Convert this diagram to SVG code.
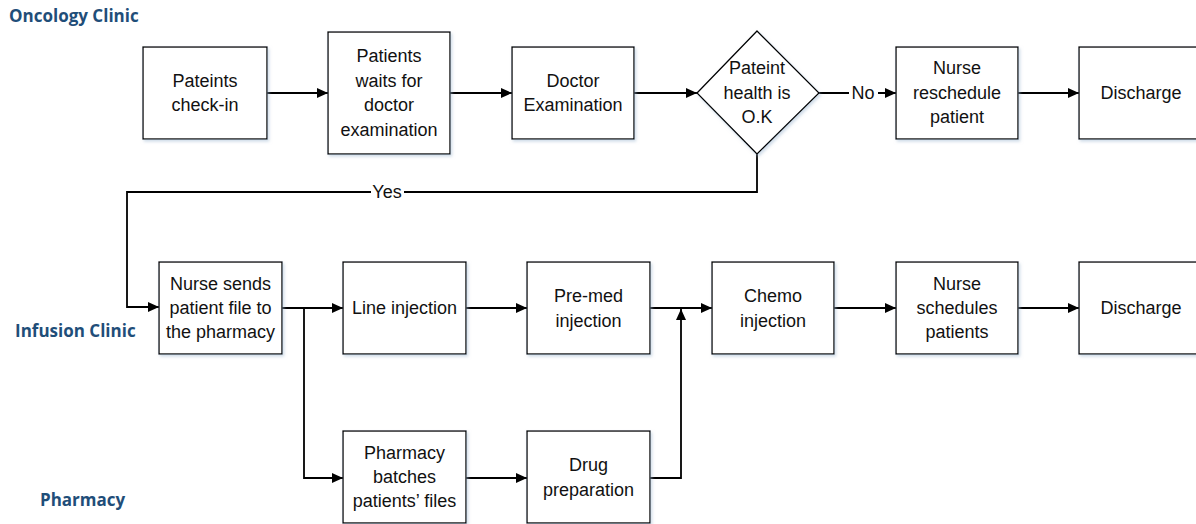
<svg xmlns="http://www.w3.org/2000/svg" width="1196" height="524" viewBox="0 0 1196 524">
<style>
.box{fill:#fff;stroke:#000;stroke-width:1.3;filter:url(#sh)}
.t{font-family:"Liberation Sans",Arial,sans-serif;font-size:18px;fill:#111;text-anchor:middle;dominant-baseline:central}
.lane{font-family:"Open Sans","Liberation Sans",sans-serif;font-size:17px;font-weight:bold;fill:#1F4E79}
.c{fill:none;stroke:#000;stroke-width:1.8;marker-end:url(#ah)}
.lbl{font-family:"Liberation Sans",Arial,sans-serif;font-size:18px;fill:#111;text-anchor:middle;dominant-baseline:central}
</style>
<defs>
<filter id="sh" x="-10%" y="-10%" width="125%" height="125%">
<feDropShadow dx="1.5" dy="2" stdDeviation="1.5" flood-color="#9fb8d0" flood-opacity="0.5"/>
</filter>
<marker id="ah" markerUnits="userSpaceOnUse" markerWidth="12" markerHeight="10" refX="11" refY="5" orient="auto">
<path d="M0,0 L11,5 L0,10 z" fill="#000"/>
</marker>
</defs>
<rect width="1196" height="524" fill="#fff"/>
<g id="lanes">
<text class="lane" x="9" y="22">Oncology Clinic</text>
<text class="lane" x="15" y="337">Infusion Clinic</text>
<text class="lane" x="40" y="506">Pharmacy</text>
</g>
<g id="connectors">
<path class="c" d="M267,93 H328"/>
<path class="c" d="M450,93 H512"/>
<path class="c" d="M634,93 H697"/>
<path class="c" d="M819,93 H896"/>
<path class="c" d="M1018,93 H1079"/>
<path class="c" d="M757,154 V192 H127 V307 H159"/>
<path class="c" d="M282,308 H343"/>
<path class="c" d="M304,308 V478 H343"/>
<path class="c" d="M466,308 H527"/>
<path class="c" d="M650,308 H712"/>
<path class="c" d="M466,478 H527"/>
<path class="c" d="M650,478 H681 V309"/>
<path class="c" d="M834,308 H896"/>
<path class="c" d="M1018,308 H1079"/>
<rect x="849" y="84" width="29" height="18" fill="#fff"/>
<text class="lbl" x="863" y="93">No</text>
<rect x="371" y="183" width="33" height="18" fill="#fff"/>
<text class="lbl" x="387" y="192">Yes</text>
</g>
<g id="checkin"><rect class="box" x="143" y="47" width="124" height="92"/>
<text class="t" x="205" y="81">Pateints</text><text class="t" x="205" y="105">check-in</text></g>
<g id="waits"><rect class="box" x="328" y="32" width="122" height="122"/>
<text class="t" x="389" y="56">Patients</text><text class="t" x="389" y="80.5">waits for</text><text class="t" x="389" y="105">doctor</text><text class="t" x="389" y="129.5">examination</text></g>
<g id="doctor"><rect class="box" x="512" y="47" width="122" height="92"/>
<text class="t" x="573" y="81">Doctor</text><text class="t" x="573" y="105">Examination</text></g>
<g id="decision"><polygon class="box" points="697,93 757,31 819,93 757,154"/>
<text class="t" x="757" y="68">Pateint</text><text class="t" x="757" y="93">health is</text><text class="t" x="757" y="117">O.K</text></g>
<g id="reschedule"><rect class="box" x="896" y="47" width="122" height="92"/>
<text class="t" x="957" y="68">Nurse</text><text class="t" x="957" y="93">reschedule</text><text class="t" x="957" y="117">patient</text></g>
<g id="discharge1"><rect class="box" x="1079" y="47" width="122" height="92"/>
<text class="t" x="1141" y="93">Discharge</text></g>
<g id="sendfile"><rect class="box" x="159" y="262" width="123" height="92"/>
<text class="t" x="220.5" y="284">Nurse sends</text><text class="t" x="220.5" y="308">patient file to</text><text class="t" x="220.5" y="332">the pharmacy</text></g>
<g id="line"><rect class="box" x="343" y="262" width="123" height="92"/>
<text class="t" x="404.5" y="308">Line injection</text></g>
<g id="premed"><rect class="box" x="527" y="262" width="123" height="92"/>
<text class="t" x="588.5" y="296">Pre-med</text><text class="t" x="588.5" y="321">injection</text></g>
<g id="chemo"><rect class="box" x="712" y="262" width="122" height="92"/>
<text class="t" x="773" y="296">Chemo</text><text class="t" x="773" y="321">injection</text></g>
<g id="schedules"><rect class="box" x="896" y="262" width="122" height="92"/>
<text class="t" x="957" y="284">Nurse</text><text class="t" x="957" y="308">schedules</text><text class="t" x="957" y="332">patients</text></g>
<g id="discharge2"><rect class="box" x="1079" y="262" width="122" height="92"/>
<text class="t" x="1141" y="308">Discharge</text></g>
<g id="batches"><rect class="box" x="343" y="431" width="123" height="92"/>
<text class="t" x="404.5" y="453">Pharmacy</text><text class="t" x="404.5" y="477">batches</text><text class="t" x="404.5" y="501">patients’ files</text></g>
<g id="drugprep"><rect class="box" x="527" y="431" width="123" height="92"/>
<text class="t" x="588.5" y="465">Drug</text><text class="t" x="588.5" y="490">preparation</text></g>
</svg>
